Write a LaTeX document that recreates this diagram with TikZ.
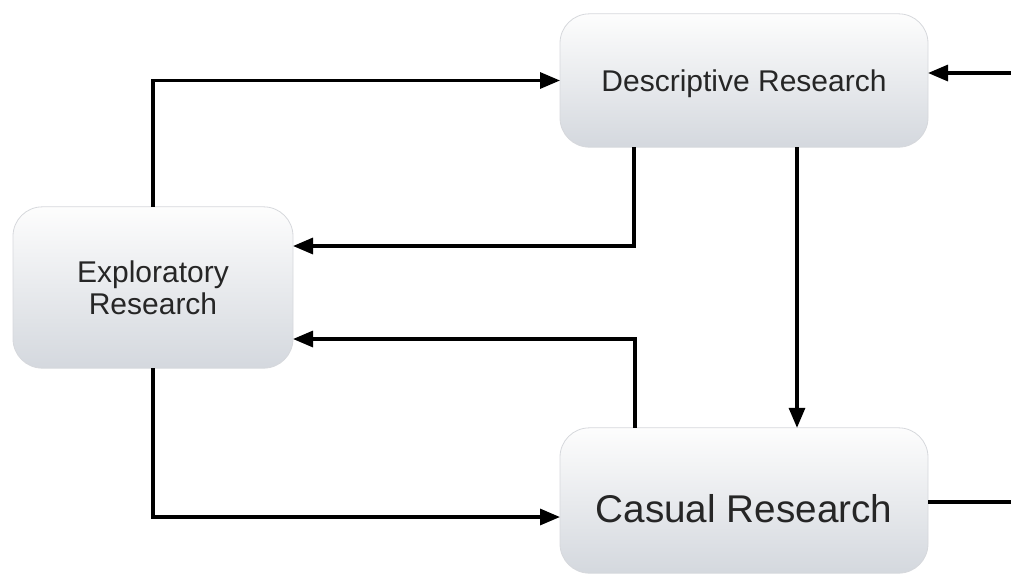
\documentclass[tikz,border=0pt]{standalone}
\usepackage{fontspec}
\setmainfont{Liberation Sans}
\usepackage{tikz}
\usetikzlibrary{arrows.meta}
\definecolor{boxtop}{RGB}{253,253,253}
\definecolor{boxbot}{RGB}{212,216,222}
\definecolor{boxline}{RGB}{214,216,220}
\definecolor{txtgray}{RGB}{38,38,38}

\begin{document}
\begin{tikzpicture}[x=0.75pt,y=-0.75pt,
  box/.style={rectangle,rounded corners=22pt,draw=boxline,line width=0.6pt,
    top color=boxtop,bottom color=boxbot,text=txtgray,align=center,
    inner sep=0pt,outer sep=0pt},
  arr/.style={line width=2.4pt,-{Triangle[length=15pt,width=12pt]}}]
\useasboundingbox (0,0) rectangle (1011,575);
% the three kinds of research
\node[box,minimum width=276pt,minimum height=100pt,text depth=0pt,
  font=\fontsize{22.5}{24}\selectfont] (desc) at (744,80.5) {Descriptive Research};
\node[box,minimum width=210pt,minimum height=121pt,
  font=\fontsize{22.5}{24}\selectfont] (expl) at (153,287.5) {Exploratory\\Research};
\node[box,minimum width=276pt,minimum height=109pt,text height=33pt,text depth=0pt,
  font=\fontsize{29}{32}\selectfont] (casu) at (744,500.5) {Casual Research};
% where the elbows and the loose ends sit
\coordinate (rin) at (1011,73);
\coordinate (rout) at (1011,502);
\coordinate (dback) at (634,246);
\coordinate (cback) at (635,339);
\coordinate (ddown) at (797,0);
\coordinate (ecas) at (0,517);
% connectors
\draw[arr] (expl.north) |- (desc.west);
\draw[arr] (rin) -- (desc.east |- rin);
\draw[arr] (desc.south -| dback) |- (expl.east |- dback);
\draw[arr] (desc.south -| ddown) -- (casu.north -| ddown);
\draw[arr] (casu.north -| cback) |- (expl.east |- cback);
\draw[arr] (expl.south) |- (casu.west |- ecas);
\draw[line width=2.4pt] (casu.east |- rout) -- (rout);
\end{tikzpicture}
\end{document}
